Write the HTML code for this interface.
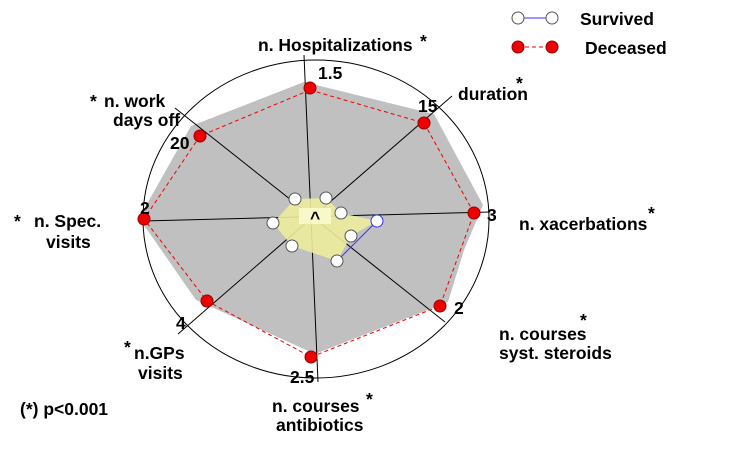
<!DOCTYPE html><html><head><style>body{margin:0;background:#fff}svg text{font-family:"Liberation Sans",sans-serif;font-weight:bold;font-size:17.5px;fill:#000}</style></head><body>
<svg width="732" height="449" viewBox="0 0 732 449" xmlns="http://www.w3.org/2000/svg">
<ellipse cx="316" cy="219" rx="173" ry="159" fill="none" stroke="#000" stroke-width="1"/>
<polygon points="304,82 434,114 483,205 464,250 448,302 315,354 196,300 139,218 191,126" fill="#c0c0c0"/>
<g stroke="#000" stroke-width="1">
<line x1="304" y1="55" x2="318" y2="382"/>
<line x1="175" y1="108" x2="445" y2="322"/>
<line x1="452" y1="96" x2="178" y2="334"/>
<line x1="143" y1="221" x2="490" y2="212"/>
</g>
<polyline points="310,90 424,123 474,213 440,306 311,357 207,301 144,219 200,136 310,90" fill="none" stroke="#e00" stroke-width="1" stroke-dasharray="4,3"/>
<polygon points="295,199 326,198 341,213 377,221 351,236 337,261 292,246 273,223" fill="#ecec9c" opacity="0.9"/>
<rect x="299" y="208" width="32" height="16" fill="#f8f8c8"/>
<text x="310" y="224" font-size="12">^</text>
<line x1="377" y1="221" x2="337" y2="261" stroke="#33f" stroke-width="1"/>
<g fill="#e00" stroke="#900">
<circle cx="310" cy="88" r="6"/><circle cx="424" cy="123" r="6"/><circle cx="474" cy="213" r="6"/><circle cx="440" cy="306" r="6"/><circle cx="311" cy="357" r="6"/><circle cx="207" cy="301" r="6"/><circle cx="144" cy="219" r="6"/><circle cx="200" cy="136" r="6"/>
</g>
<g fill="#fff" stroke="#555">
<circle cx="295" cy="199" r="6"/><circle cx="326" cy="198" r="6"/><circle cx="341" cy="213" r="6"/><circle cx="351" cy="236" r="6"/><circle cx="337" cy="261" r="6"/><circle cx="292" cy="246" r="6"/><circle cx="273" cy="223" r="6"/>
<circle cx="377" cy="221" r="6" stroke="#33f"/>
</g>
<text x="318" y="79">1.5</text><text x="418" y="112">15</text><text x="487" y="221">3</text><text x="454" y="314">2</text>
<text x="290" y="383">2.5</text><text x="176" y="329">4</text><text x="140" y="214">2</text><text x="170" y="149">20</text>
<text x="258" y="51">n. Hospitalizations</text><text x="420" y="47" font-size="19">*</text>
<text x="458" y="100">duration</text><text x="516" y="89" font-size="19">*</text>
<text x="519" y="230">n. xacerbations</text><text x="648" y="219" font-size="19">*</text>
<text x="580" y="326" font-size="19">*</text><text x="499" y="340">n. courses</text><text x="499" y="359">syst. steroids</text>
<text x="366" y="405" font-size="19">*</text><text x="272" y="412">n. courses</text><text x="276" y="431">antibiotics</text>
<text x="124" y="353" font-size="19">*</text><text x="134" y="359">n.GPs</text><text x="138" y="379">visits</text>
<text x="14" y="227" font-size="19">*</text><text x="34" y="227">n. Spec.</text><text x="46" y="248">visits</text>
<text x="90" y="107" font-size="19">*</text><text x="104" y="107">n. work</text><text x="113" y="126">days off</text>
<text x="20" y="415" font-size="15.5">(*) p&lt;0.001</text>
<line x1="518" y1="18" x2="552" y2="18" stroke="#33f"/>
<circle cx="518" cy="18" r="6" fill="#fff" stroke="#555"/><circle cx="552" cy="18" r="6" fill="#fff" stroke="#555"/>
<text x="580" y="25">Survived</text>
<line x1="518" y1="47" x2="552" y2="47" stroke="#e00" stroke-dasharray="4,3"/>
<circle cx="518" cy="47" r="6" fill="#e00" stroke="#900"/><circle cx="552" cy="47" r="6" fill="#e00" stroke="#900"/>
<text x="585" y="54">Deceased</text>
</svg></body></html>
